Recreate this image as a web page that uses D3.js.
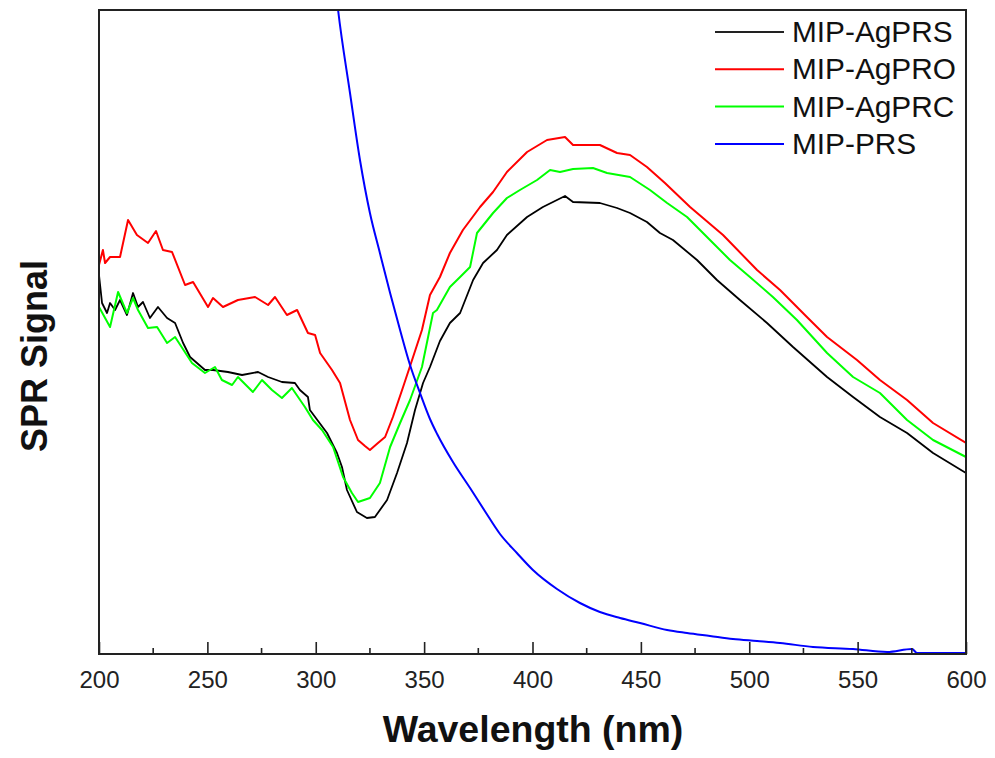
<!DOCTYPE html>
<html>
<head>
<meta charset="utf-8">
<script src="https://cdn.jsdelivr.net/npm/d3@7"></script>
<style>
  html, body { margin: 0; padding: 0; background: #fff; }
  svg { display: block; }
</style>
</head>
<body>
<svg id="chart" width="995" height="758"></svg>
<script>
// ---- data (SPR signal, arbitrary units) ----
const seriesNames = ["MIP-AgPRS", "MIP-AgPRO", "MIP-AgPRC", "MIP-PRS"];
const seriesColors = ["#000000", "#ff0000", "#00ff00", "#0000ff"];
const xTicksMajor = [200, 250, 300, 350, 400, 450, 500, 550, 600];

const agprsNm = [200,201.4,203.7,205.1,207.4,209.7,212.9,215.7,218,220.3,223.5,227.2,231.4,235.1,238.8,242,248.9,252.6,259.5,266,273.4,278,284.4,290.4,292.7,296.4,297.3,305.2,309.8,312.1,314.4,319,323.6,327.3,332.9,337.5,342.1,345.8,349.5,352.7,357.3,361.9,366.6,372.6,377.2,383.6,388.2,397.5,404.8,415,418.7,431.1,439,445,452.8,458.8,464.8,475.9,485.1,495.7,508.2,520.2,535.9,547.9,560.3,572.8,584.8,600];
const agprsSignal = [379,351,341,351,344,354,339,361,347,352,336,347,336,331,311,297,284,284,282,279,282,277,272,271,264,257,244,221,201,187,164,142,136,137,154,181,211,244,271,287,313,331,341,374,391,404,419,437,447,458,452,451,446,441,432,421,414,394,374,354,331,307,277,257,237,221,201,181];

const agproNm = [200,201.8,202.8,205.1,209.7,213.4,217.5,222.6,226.3,229.5,233.7,239.7,243.4,250.3,252.6,257.2,264.1,272,278,281.2,286.7,291.4,296.4,299.7,302,307.5,311.2,315.8,319.5,322.7,325,328.7,332,335.6,340.3,344.9,349,352.7,357.3,361.9,367.9,375.8,381.8,388.2,397.5,406.7,415,418.7,431.1,439,445,452.8,461.1,472.7,487.9,503.6,514.2,526.6,535.9,549.7,560.3,572.8,584.8,600];
const agproSignal = [389,404,391,397,397,434,419,411,423,404,402,369,372,347,356,347,354,357,349,357,339,344,321,319,301,284,271,234,214,208,204,211,217,237,267,297,324,359,377,401,424,447,462,482,502,514,517,509,509,501,499,487,471,447,419,384,364,337,317,294,274,254,231,211];

const agprcNm = [200,205.1,208.8,212.9,215.7,218,222.6,226.8,231.4,235.1,242.9,248.9,253.5,256.7,261.4,264.1,271,275.2,279.8,284.4,289,295,298.7,302.9,308,312.6,316.7,319.5,325,329.6,334.3,338.9,343.5,349,354.1,355.9,361.9,366.6,371.2,374.4,381.8,388.2,394.2,402.1,408.1,412.7,418.7,427.9,434.4,445,454.2,462.1,471.3,480.5,491.1,500.3,510.9,522,535.9,547.9,560.3,572.8,584.8,600];
const agprcSignal = [347,327,362,341,356,344,326,327,311,317,291,281,287,274,269,277,262,274,264,256,266,247,234,224,207,177,161,152,156,171,207,231,254,287,341,344,367,377,387,421,441,456,464,474,484,482,485,486,481,477,464,451,437,417,394,377,357,334,301,277,261,234,214,197];

const prsNm = [307.5,310.3,315.8,320.4,325,329.6,334.3,338.9,343.5,348.1,352.7,356,363.3,371.2,378,385,392.8,400.2,411.3,421.9,431.1,440.4,449.6,462.1,471.3,481.9,492.5,503.6,514.2,529.4,547.9,563.6,575.1,577.4,600];
const prsSignal = [700,644,561,494,441,401,361,324,289,261,235,220,192,166,143,120,101,84,65,51,42,36,31,24,21,18,15,13,11,7,5,2,5,1,1];

const seriesNm = [agprsNm, agproNm, agprcNm, prsNm];
const seriesSignal = [agprsSignal, agproSignal, agprcSignal, prsSignal];

// ---- layout ----
const svg = d3.select("#chart");
const plotL = 99, plotR = 966, plotT = 10, plotB = 654;

const x = d3.scaleLinear().domain([200, 600]).range([plotL, plotR]);
const y = d3.scaleLinear().domain([0, 644]).range([plotB, plotT]);

svg.append("defs").append("clipPath").attr("id", "plotclip")
  .append("rect").attr("x", plotL).attr("y", plotT)
  .attr("width", plotR - plotL).attr("height", plotB - plotT);

// curves
const plot = svg.append("g").attr("clip-path", "url(#plotclip)");
seriesNames.forEach((name, i) => {
  const pts = seriesNm[i].map((w, j) => [w, seriesSignal[i][j]]);
  const line = d3.line()
    .x(d => x(d[0])).y(d => y(d[1]))
    .curve(i === 3 ? d3.curveMonotoneX : d3.curveLinear);
  plot.append("path")
    .datum(pts)
    .attr("fill", "none")
    .attr("stroke", seriesColors[i])
    .attr("stroke-width", i === 0 ? 1.8 : 2)
    .attr("stroke-linejoin", "round")
    .attr("d", line);
});

// bottom axis with inward ticks
const axisMajor = d3.axisBottom(x).tickValues(xTicksMajor).tickSizeInner(-12).tickSizeOuter(0).tickPadding(24)
  .tickFormat(d3.format("d"));
const gx = svg.append("g").attr("transform", `translate(0,${plotB})`).call(axisMajor);
gx.select(".domain").remove();
gx.selectAll(".tick line").attr("stroke", "#222").attr("stroke-width", 1.6);
gx.selectAll(".tick text")
  .attr("font-family", "Liberation Sans, Arial, sans-serif")
  .attr("font-size", 24).attr("fill", "#222")
  .attr("dy", 0).attr("y", 34);

const minorTicks = d3.range(225, 600, 50);
svg.append("g").selectAll("line").data(minorTicks).join("line")
  .attr("x1", d => x(d)).attr("x2", d => x(d))
  .attr("y1", plotB).attr("y2", plotB - 6)
  .attr("stroke", "#222").attr("stroke-width", 1.6);

// frame
svg.append("rect")
  .attr("x", plotL).attr("y", plotT)
  .attr("width", plotR - plotL).attr("height", plotB - plotT)
  .attr("fill", "none").attr("stroke", "#222").attr("stroke-width", 2);

// axis titles
svg.append("text")
  .attr("x", 533).attr("y", 742)
  .attr("text-anchor", "middle")
  .attr("font-family", "Liberation Sans, Arial, sans-serif")
  .attr("font-weight", "bold").attr("font-size", 37.5).attr("fill", "#111")
  .text("Wavelength (nm)");

svg.append("text")
  .attr("transform", "translate(47,356) rotate(-90)")
  .attr("text-anchor", "middle")
  .attr("font-family", "Liberation Sans, Arial, sans-serif")
  .attr("font-weight", "bold").attr("font-size", 36).attr("fill", "#111")
  .text("SPR Signal");

// legend
const legend = svg.append("g");
seriesNames.forEach((name, i) => {
  const by = 42 + i * 37.3;
  legend.append("line")
    .attr("x1", 715).attr("x2", 784)
    .attr("y1", by - 10).attr("y2", by - 10)
    .attr("stroke", i === 0 ? "#222" : seriesColors[i]).attr("stroke-width", 2);
  legend.append("text")
    .attr("x", 792).attr("y", by)
    .attr("font-family", "Liberation Sans, Arial, sans-serif")
    .attr("font-size", 29.8).attr("fill", "#111")
    .text(name);
});
</script>
</body>
</html>
